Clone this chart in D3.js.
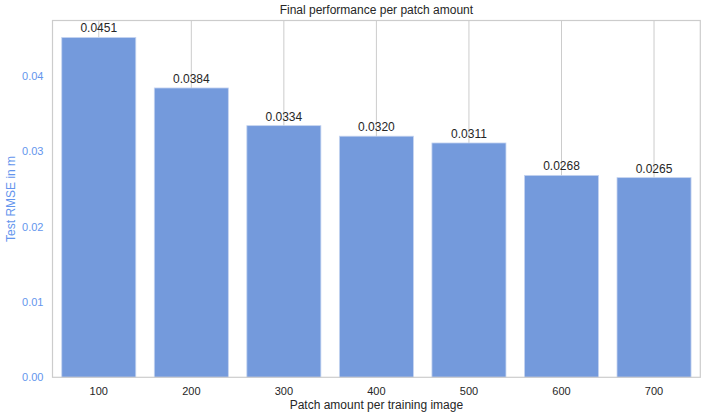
<!DOCTYPE html>
<html><head><meta charset="utf-8">
<script src="https://cdn.jsdelivr.net/npm/d3@7"></script>
<style>body{margin:0;background:#fff}</style>
</head><body>
<script>
const categories = ["100","200","300","400","500","600","700"];
const values = [0.0451,0.0384,0.0334,0.0320,0.0311,0.0268,0.0265];
const yTicks = [0.00,0.01,0.02,0.03,0.04];

const W=708,H=419;
const m={l:52.5,r:7.7,t:20.5,b:41.7};
const font="'Liberation Sans', Arial, sans-serif";
const svg=d3.select("body").append("svg").attr("width",W).attr("height",H).style("font-family",font);
const x=d3.scaleBand().domain(categories).range([m.l,W-m.r]).paddingInner(0.2).paddingOuter(0.1);
const y=d3.scaleLinear().domain([0,d3.max(values)*1.05]).range([H-m.b,m.t]);

// vertical grid
svg.append("g").selectAll("line").data(categories).join("line")
 .attr("x1",d=>x(d)+x.bandwidth()/2).attr("x2",d=>x(d)+x.bandwidth()/2)
 .attr("y1",m.t).attr("y2",H-m.b).attr("stroke","#cccccc").attr("stroke-width",1);

// bars
svg.append("g").selectAll("rect").data(values).join("rect")
 .attr("x",(d,i)=>x(categories[i])).attr("width",x.bandwidth())
 .attr("y",d=>y(d)).attr("height",d=>y(0)-y(d))
 .attr("fill","#749ADC").attr("stroke","#c5d4f0").attr("stroke-width",0.8);

// frame
svg.append("rect").attr("x",m.l).attr("y",m.t).attr("width",W-m.l-m.r).attr("height",H-m.t-m.b)
 .attr("fill","none").attr("stroke","#cccccc").attr("stroke-width",1.2);

// labels
svg.append("g").selectAll("text").data(values).join("text")
 .attr("x",(d,i)=>x(categories[i])+x.bandwidth()/2).attr("y",d=>y(d)-5)
 .attr("text-anchor","middle").attr("font-size",12).attr("fill","#262626")
 .text(d=>d.toFixed(4));

// x axis
const xa=svg.append("g").attr("transform",`translate(0,${H-m.b})`).call(d3.axisBottom(x).tickSize(0).tickPadding(10));
xa.select(".domain").remove();
xa.selectAll("text").attr("font-size",11).attr("fill","#262626").attr("font-family",font);

// y axis
const ya=svg.append("g").attr("transform",`translate(${m.l},0)`).call(d3.axisLeft(y).tickValues(yTicks).tickFormat(d3.format(".2f")).tickSize(0).tickPadding(9));
ya.select(".domain").remove();
ya.selectAll("text").attr("font-size",11).attr("fill","#6495ED").attr("font-family",font);

svg.append("text").attr("x",(m.l+W-m.r)/2).attr("y",14).attr("text-anchor","middle")
 .attr("font-size",12).attr("fill","#262626").text("Final performance per patch amount");
svg.append("text").attr("x",(m.l+W-m.r)/2).attr("y",409).attr("text-anchor","middle")
 .attr("font-size",12).attr("fill","#262626").text("Patch amount per training image");
svg.append("text").attr("transform",`translate(15,${(m.t+H-m.b)/2}) rotate(-90)`).attr("text-anchor","middle")
 .attr("font-size",12).attr("fill","#6495ED").text("Test RMSE in m");
</script>
</body></html>
